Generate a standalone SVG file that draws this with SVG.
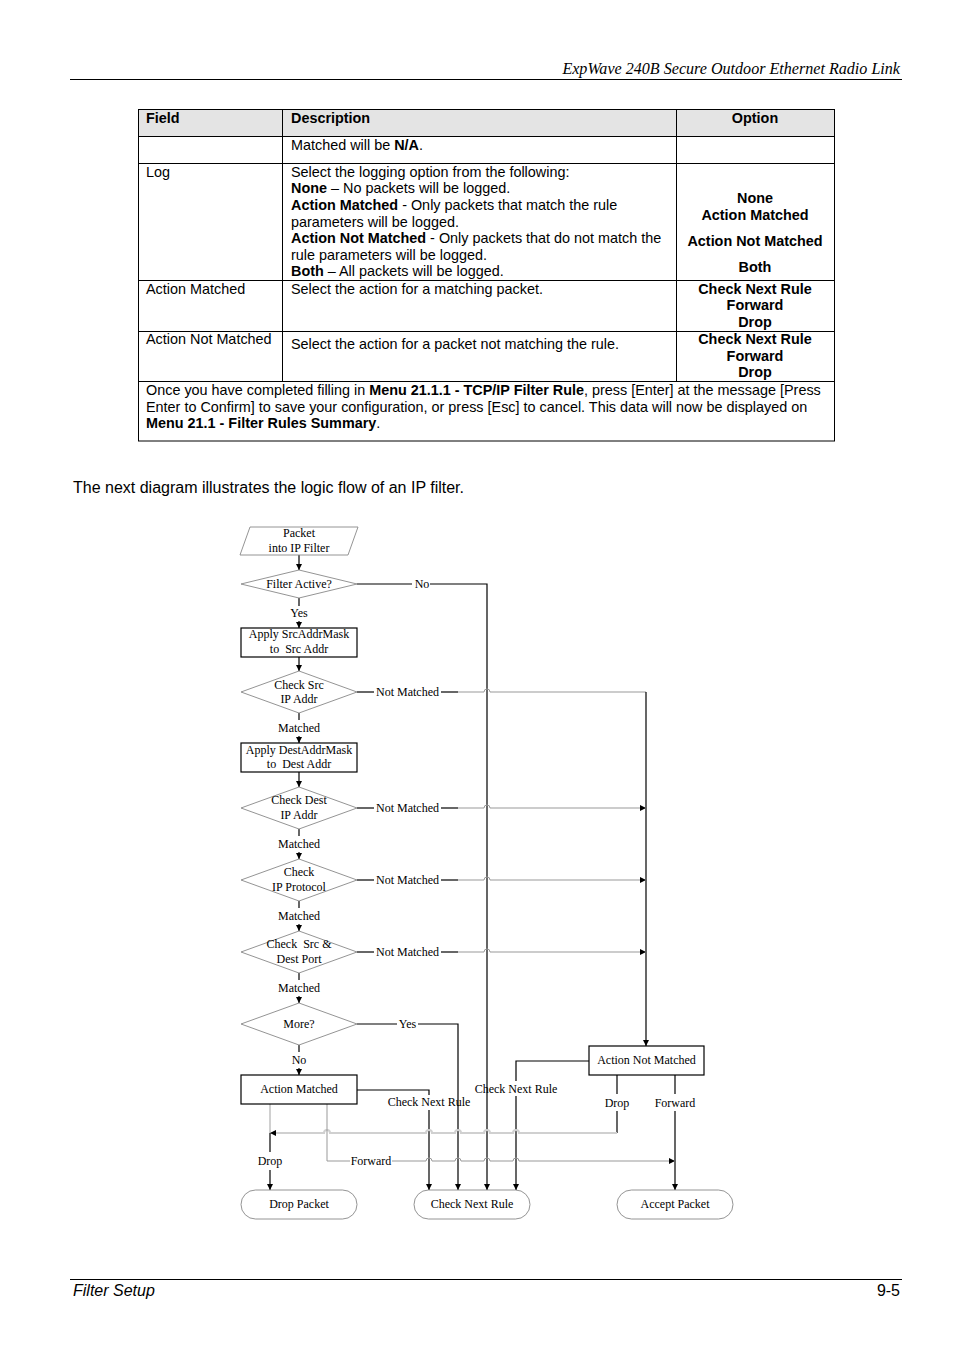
<svg xmlns="http://www.w3.org/2000/svg" width="954" height="1351" viewBox="0 0 954 1351">
<style>
.t{font-family:"Liberation Sans",Arial,sans-serif;font-size:14.4px;fill:#000}
.b{font-weight:bold}
.c{text-anchor:middle}
.f{font-family:"Liberation Serif","Times New Roman",serif;font-size:12px;fill:#000;text-anchor:middle}
.tl{stroke:#000;stroke-width:1;fill:none}
.dia{fill:#fff;stroke:#888;stroke-width:0.9}
.box{fill:#fff;stroke:#000;stroke-width:1.2}
.term{fill:#fff;stroke:#888;stroke-width:0.9}
.k{stroke:#000;stroke-width:1.2;fill:none}
.g{stroke:#999;stroke-width:1;fill:none}
.lg{stroke:#d0d0d0;stroke-width:2;fill:none}
</style>
<defs>
<marker id="ah" viewBox="0 0 8 8" refX="8" refY="4" markerWidth="6" markerHeight="6" orient="auto" markerUnits="userSpaceOnUse"><path d="M0,0 L8,4 L0,8z" fill="#000"/></marker>
</defs>
<rect width="954" height="1351" fill="#fff"/>

<g id="page-header">
<text x="900" y="74" style="font-family:'Liberation Serif','Times New Roman',serif;font-size:16.1px;font-style:italic;text-anchor:end">ExpWave 240B Secure Outdoor Ethernet Radio Link</text>
<line x1="70" y1="79.5" x2="902" y2="79.5" stroke="#000" stroke-width="1"/>
</g>

<g id="table">
<rect x="138.5" y="109.5" width="696" height="27" fill="#e4e4e4"/>
<rect x="138.5" y="109.5" width="696" height="331.5" class="tl"/>
<line x1="282.5" y1="109.5" x2="282.5" y2="381.5" class="tl"/>
<line x1="676.5" y1="109.5" x2="676.5" y2="381.5" class="tl"/>
<line x1="138.5" y1="136.5" x2="834.5" y2="136.5" class="tl"/>
<line x1="138.5" y1="163.5" x2="834.5" y2="163.5" class="tl"/>
<line x1="138.5" y1="280.5" x2="834.5" y2="280.5" class="tl"/>
<line x1="138.5" y1="331.5" x2="834.5" y2="331.5" class="tl"/>
<line x1="138.5" y1="381.5" x2="834.5" y2="381.5" class="tl"/>
<text class="t b" x="146" y="123">Field</text>
<text class="t b" x="291" y="123">Description</text>
<text class="t b c" x="755" y="123">Option</text>
<text class="t" x="291" y="150">Matched will be <tspan class="b">N/A</tspan>.</text>
<text class="t" x="146" y="177">Log</text>
<text class="t" x="291" y="177">Select the logging option from the following:</text>
<text class="t" x="291" y="193"><tspan class="b">None</tspan> – No packets will be logged.</text>
<text class="t" x="291" y="210"><tspan class="b">Action Matched</tspan> - Only packets that match the rule</text>
<text class="t" x="291" y="227">parameters will be logged.</text>
<text class="t" x="291" y="243"><tspan class="b">Action Not Matched</tspan> - Only packets that do not match the</text>
<text class="t" x="291" y="260">rule parameters will be logged.</text>
<text class="t" x="291" y="276"><tspan class="b">Both</tspan> – All packets will be logged.</text>
<text class="t b c" x="755" y="203">None</text>
<text class="t b c" x="755" y="220">Action Matched</text>
<text class="t b c" x="755" y="246">Action Not Matched</text>
<text class="t b c" x="755" y="272">Both</text>
<text class="t" x="146" y="294">Action Matched</text>
<text class="t" x="291" y="294">Select the action for a matching packet.</text>
<text class="t b c" x="755" y="294">Check Next Rule</text>
<text class="t b c" x="755" y="310">Forward</text>
<text class="t b c" x="755" y="327">Drop</text>
<text class="t" x="146" y="344">Action Not Matched</text>
<text class="t" x="291" y="349">Select the action for a packet not matching the rule.</text>
<text class="t b c" x="755" y="344">Check Next Rule</text>
<text class="t b c" x="755" y="361">Forward</text>
<text class="t b c" x="755" y="377">Drop</text>
<text class="t" x="146" y="395">Once you have completed filling in <tspan class="b">Menu 21.1.1 - TCP/IP Filter Rule</tspan>, press [Enter] at the message [Press</text>
<text class="t" x="146" y="412">Enter to Confirm] to save your configuration, or press [Esc] to cancel. This data will now be displayed on</text>
<text class="t" x="146" y="428"><tspan class="b">Menu 21.1 - Filter Rules Summary</tspan>.</text>
</g>

<text class="t" x="73" y="493" style="font-size:16px">The next diagram illustrates the logic flow of an IP filter.</text>

<g id="connectors">
<line x1="299" y1="555" x2="299" y2="570" class="k" marker-end="url(#ah)"/>
<line x1="299" y1="598" x2="299" y2="606" class="k"/>
<line x1="299" y1="621" x2="299" y2="628" class="k" marker-end="url(#ah)"/>
<line x1="299" y1="657" x2="299" y2="671" class="k" marker-end="url(#ah)"/>
<line x1="299" y1="713" x2="299" y2="720" class="k"/>
<line x1="299" y1="736" x2="299" y2="743" class="k" marker-end="url(#ah)"/>
<line x1="299" y1="772" x2="299" y2="787" class="k" marker-end="url(#ah)"/>
<line x1="299" y1="829" x2="299" y2="836" class="k"/>
<line x1="299" y1="852" x2="299" y2="859" class="k" marker-end="url(#ah)"/>
<line x1="299" y1="901" x2="299" y2="908" class="k"/>
<line x1="299" y1="924" x2="299" y2="931" class="k" marker-end="url(#ah)"/>
<line x1="299" y1="973" x2="299" y2="980" class="k"/>
<line x1="299" y1="996" x2="299" y2="1003" class="k" marker-end="url(#ah)"/>
<line x1="299" y1="1045" x2="299" y2="1052" class="k"/>
<line x1="299" y1="1068" x2="299" y2="1075" class="k" marker-end="url(#ah)"/>
<line x1="357" y1="584" x2="412" y2="584" class="k"/>
<path d="M430,584 H487 V1190" class="k" marker-end="url(#ah)"/>
<line x1="357" y1="692" x2="374" y2="692" class="k"/>
<line x1="441" y1="692" x2="458" y2="692" class="k"/>
<path d="M458,692 H484 a3,3 0 0 1 6,0 H646" class="g"/>
<path d="M646,692 V1046" class="k" marker-end="url(#ah)"/>
<line x1="357" y1="808" x2="374" y2="808" class="k"/>
<line x1="441" y1="808" x2="458" y2="808" class="k"/>
<path d="M458,808 H484 a3,3 0 0 1 6,0 H646" class="g" marker-end="url(#ah)"/>
<line x1="357" y1="880" x2="374" y2="880" class="k"/>
<line x1="441" y1="880" x2="458" y2="880" class="k"/>
<path d="M458,880 H484 a3,3 0 0 1 6,0 H646" class="g" marker-end="url(#ah)"/>
<line x1="357" y1="952" x2="374" y2="952" class="k"/>
<line x1="441" y1="952" x2="458" y2="952" class="k"/>
<path d="M458,952 H484 a3,3 0 0 1 6,0 H646" class="g" marker-end="url(#ah)"/>
<line x1="357" y1="1024" x2="397" y2="1024" class="k"/>
<path d="M418,1024 H458 V1190" class="k" marker-end="url(#ah)"/>
<path d="M357,1090 H429 V1095" class="k"/>
<line x1="429" y1="1110" x2="429" y2="1190" class="k" marker-end="url(#ah)"/>
<path d="M589,1061 H516 V1081" class="k"/>
<line x1="516" y1="1096" x2="516" y2="1190" class="k" marker-end="url(#ah)"/>
<line x1="617" y1="1075" x2="617" y2="1094" class="k"/>
<line x1="617" y1="1111" x2="617" y2="1133" class="k"/>
<line x1="675" y1="1075" x2="675" y2="1094" class="k"/>
<line x1="675" y1="1111" x2="675" y2="1190" class="k" marker-end="url(#ah)"/>
<line x1="270" y1="1104" x2="270" y2="1133" class="lg"/>
<path d="M617,1133 H519 a3,3 0 0 0 -6,0 H490 a3,3 0 0 0 -6,0 H461 a3,3 0 0 0 -6,0 H432 a3,3 0 0 0 -6,0 H330 a3,3 0 0 0 -6,0 H270" class="lg" marker-end="url(#ah)"/>
<line x1="270" y1="1133" x2="270" y2="1152" class="k"/>
<line x1="270" y1="1170" x2="270" y2="1190" class="k" marker-end="url(#ah)"/>
<path d="M327,1104 V1161 H350" class="g"/>
<path d="M392,1161 H426 a3,3 0 0 1 6,0 H455 a3,3 0 0 1 6,0 H484 a3,3 0 0 1 6,0 H513 a3,3 0 0 1 6,0 H675" class="g" marker-end="url(#ah)"/>
<text class="f" x="422" y="588">No</text>
<text class="f" x="299" y="617">Yes</text>
<text class="f" x="407.5" y="696">Not Matched</text>
<text class="f" x="299" y="732">Matched</text>
<text class="f" x="407.5" y="812">Not Matched</text>
<text class="f" x="299" y="848">Matched</text>
<text class="f" x="407.5" y="884">Not Matched</text>
<text class="f" x="299" y="920">Matched</text>
<text class="f" x="407.5" y="956">Not Matched</text>
<text class="f" x="299" y="992">Matched</text>
<text class="f" x="407.5" y="1028">Yes</text>
<text class="f" x="299" y="1064">No</text>
<text class="f" x="429" y="1106">Check Next Rule</text>
<text class="f" x="516" y="1093">Check Next Rule</text>
<text class="f" x="617" y="1107">Drop</text>
<text class="f" x="675" y="1107">Forward</text>
<text class="f" x="270" y="1165">Drop</text>
<text class="f" x="371" y="1165">Forward</text>
</g>

<g id="n-start">
<polygon points="250,527 358,527 348,555 240,555" class="dia"/>
<text class="f" x="299" y="537">Packet</text>
<text class="f" x="299" y="552">into IP Filter</text>
</g>
<g id="n-filter-active">
<polygon points="241,584 299,570 357,584 299,598" class="dia"/>
<text class="f" x="299" y="588">Filter Active?</text>
</g>
<g id="n-apply-src">
<rect x="241" y="628" width="116" height="29" class="box"/>
<text class="f" x="299" y="638">Apply SrcAddrMask</text>
<text class="f" x="299" y="653">to&#160; Src Addr</text>
</g>
<g id="n-check-src">
<polygon points="241,692 299,671 357,692 299,713" class="dia"/>
<text class="f" x="299" y="689">Check Src</text>
<text class="f" x="299" y="703">IP Addr</text>
</g>
<g id="n-apply-dest">
<rect x="241" y="743" width="116" height="29" class="box"/>
<text class="f" x="299" y="754">Apply DestAddrMask</text>
<text class="f" x="299" y="768">to&#160; Dest Addr</text>
</g>
<g id="n-check-dest">
<polygon points="241,808 299,787 357,808 299,829" class="dia"/>
<text class="f" x="299" y="804">Check Dest</text>
<text class="f" x="299" y="819">IP Addr</text>
</g>
<g id="n-check-proto">
<polygon points="241,880 299,859 357,880 299,901" class="dia"/>
<text class="f" x="299" y="876">Check</text>
<text class="f" x="299" y="891">IP Protocol</text>
</g>
<g id="n-check-port">
<polygon points="241,952 299,931 357,952 299,973" class="dia"/>
<text class="f" x="299" y="948">Check&#160; Src &amp;</text>
<text class="f" x="299" y="963">Dest Port</text>
</g>
<g id="n-more">
<polygon points="241,1024 299,1003 357,1024 299,1045" class="dia"/>
<text class="f" x="299" y="1028">More?</text>
</g>
<g id="n-action-matched">
<rect x="241" y="1075" width="116" height="29" class="box"/>
<text class="f" x="299" y="1093">Action Matched</text>
</g>
<g id="n-action-not-matched">
<rect x="589" y="1046" width="115" height="29" class="box"/>
<text class="f" x="646.5" y="1064">Action Not Matched</text>
</g>
<g id="n-drop-packet">
<rect x="241" y="1190" width="116" height="29" rx="14.5" class="term"/>
<text class="f" x="299" y="1208">Drop Packet</text>
</g>
<g id="n-check-next">
<rect x="414" y="1190" width="116" height="29" rx="14.5" class="term"/>
<text class="f" x="472" y="1208">Check Next Rule</text>
</g>
<g id="n-accept">
<rect x="617" y="1190" width="116" height="29" rx="14.5" class="term"/>
<text class="f" x="675" y="1208">Accept Packet</text>
</g>

<g id="page-footer">
<line x1="70" y1="1279.5" x2="902" y2="1279.5" stroke="#000" stroke-width="1"/>
<text x="73" y="1296" style="font-family:'Liberation Sans',Arial,sans-serif;font-size:16px;font-style:italic">Filter Setup</text>
<text x="900" y="1296" style="font-family:'Liberation Sans',Arial,sans-serif;font-size:16px;text-anchor:end">9-5</text>
</g>
</svg>
